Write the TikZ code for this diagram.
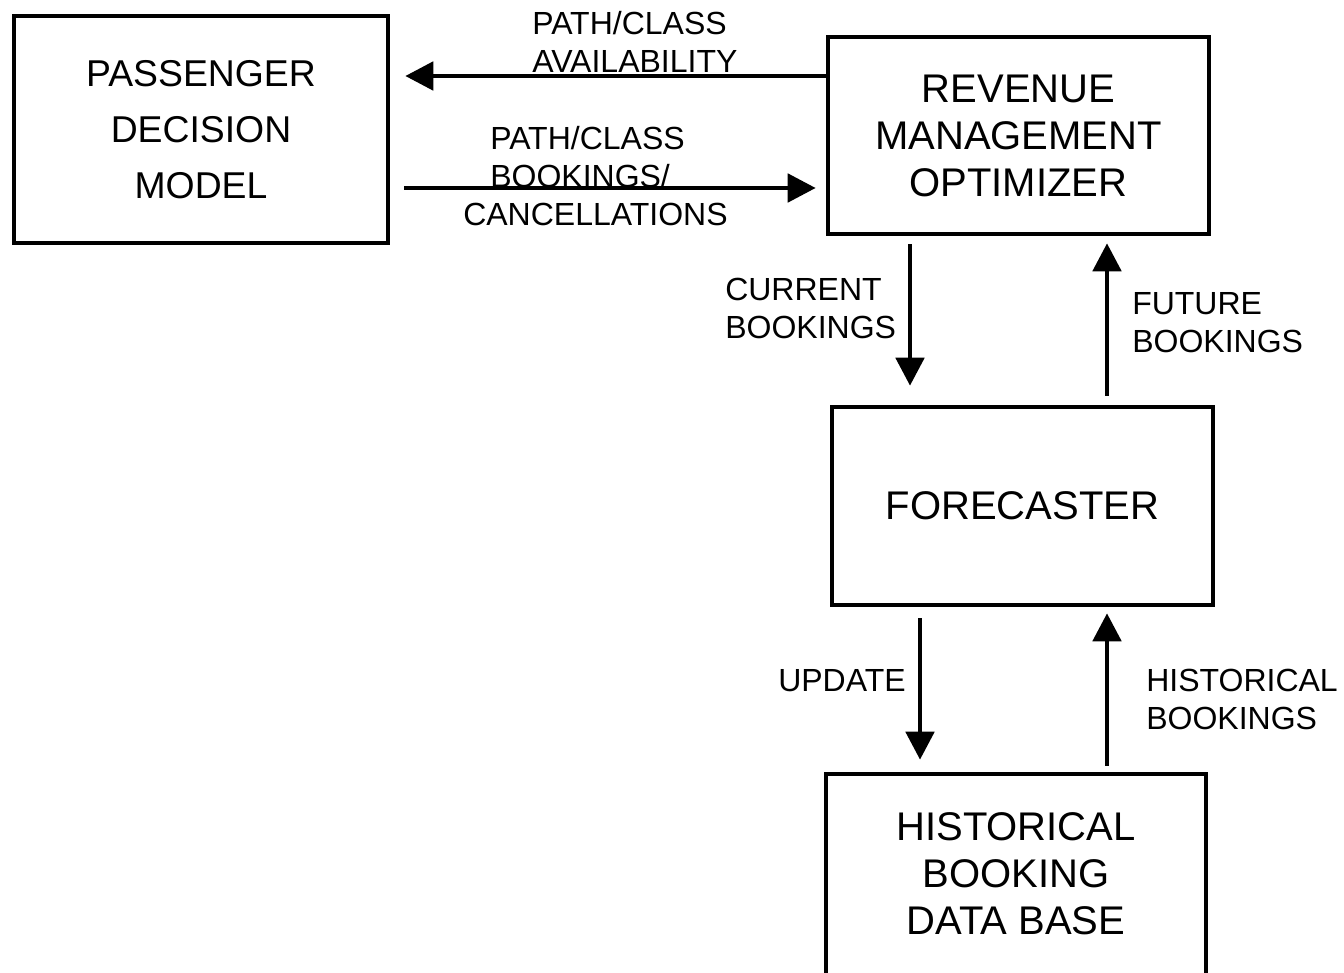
\documentclass[tikz,border=0pt]{standalone}
\usepackage{fontspec}
\setmainfont{Liberation Sans}
\usetikzlibrary{arrows.meta}
\begin{document}
\begin{tikzpicture}[x=0.75pt,y=-0.75pt,
  box/.style={draw,line width=3.4pt,inner sep=0pt,align=center},
  flow/.style={line width=3.7pt,-{Triangle[length=21pt,width=21pt]}},
  lbl/.style={inner sep=0pt,align=left,anchor=north west,font=\fontsize{24}{28.5}\selectfont}]
\useasboundingbox (0,0) rectangle (1344,973);

% blocks
\node[box,minimum width=374*0.75pt,minimum height=227*0.75pt,
      font=\fontsize{28}{42}\selectfont] (pdm) at (201,129.5) {PASSENGER\\DECISION\\MODEL};
\node[box,minimum width=381*0.75pt,minimum height=197*0.75pt,
      font=\fontsize{30}{35.25}\selectfont] (rmo) at (1018.5,135.5) {REVENUE\\MANAGEMENT\\OPTIMIZER};
\node[box,minimum width=381*0.75pt,minimum height=198*0.75pt,
      font=\fontsize{30}{35.25}\selectfont] (fc) at (1022.5,506) {FORECASTER};
\node[box,minimum width=380*0.75pt,minimum height=230*0.75pt,text depth=22.5pt,
      font=\fontsize{30}{35.25}\selectfont] (db) at (1016,889) {HISTORICAL\\BOOKING\\DATA BASE};

% rows and columns of the connectors
\coordinate (yav) at (0,76);
\coordinate (ybk) at (0,188);
\coordinate (xcur) at (910,0);
\coordinate (xfut) at (1107,0);
\coordinate (xupd) at (920,0);
\coordinate (xhis) at (1107,0);

% connectors
\draw[flow,shorten >=11.25pt] (rmo.west |- yav) -- (pdm.east |- yav);
\draw[flow,shorten <=10.5pt,shorten >=7.5pt] (pdm.east |- ybk) -- (rmo.west |- ybk);
\draw[flow,shorten <=6pt,shorten >=14.25pt] (xcur |- rmo.south) -- (xcur |- fc.north);
\draw[flow,shorten <=6.75pt,shorten >=5.25pt] (xfut |- fc.north) -- (xfut |- rmo.south);
\draw[flow,shorten <=8.25pt,shorten >=9pt] (xupd |- fc.south) -- (xupd |- db.north);
\draw[flow,shorten <=4.5pt,shorten >=4.5pt] (xhis |- db.north) -- (xhis |- fc.south);

% connector labels
\node[lbl] (lav) at (532,11) {PATH/CLASS\\AVAILABILITY};
\node[lbl] (lbk) at (490,126) {PATH/CLASS\\BOOKINGS/\\\hspace*{-20.25pt}CANCELLATIONS};
\node[lbl] (lcur) at (725,278) {CURRENT\\BOOKINGS};
\node[lbl] (lfut) at (1132,292) {FUTURE\\BOOKINGS};
\node[lbl] (lupd) at (778,669) {UPDATE};
\node[lbl] (lhis) at (1146,669) {HISTORICAL\\BOOKINGS};
\end{tikzpicture}
\end{document}
